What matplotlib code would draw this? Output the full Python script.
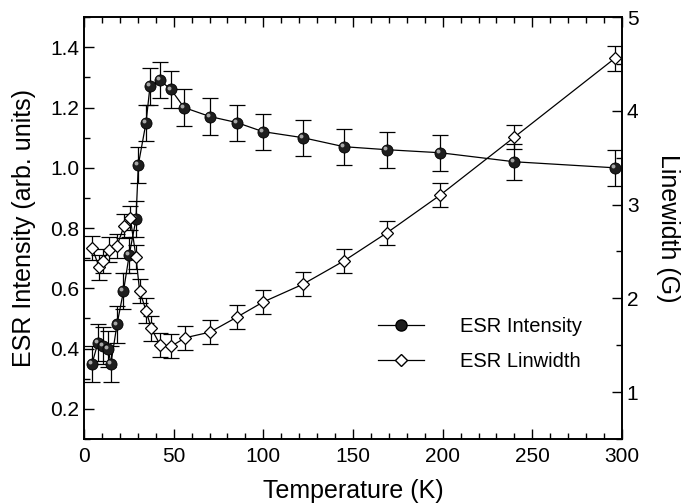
import matplotlib
matplotlib.use("Agg")

import matplotlib.pyplot as plt
import matplotlib.transforms as mtransforms
from matplotlib.lines import Line2D
from matplotlib.ticker import MultipleLocator

plt.rcParams["font.family"] = ["Liberation Sans", "DejaVu Sans"]

# ESR intensity (left axis)
T_int = [4.5, 7.8, 10.6, 13.4, 15, 18.4, 22, 25.2, 29, 30.3, 34.6, 36.8, 42.4,
         48.5, 55.8, 70.3, 85.3, 99.8, 122, 145, 169, 198.5, 240, 296]
intensity = [0.35, 0.42, 0.41, 0.40, 0.35, 0.48, 0.59, 0.71, 0.83, 1.01, 1.15,
             1.27, 1.29, 1.26, 1.20, 1.17, 1.15, 1.12, 1.10, 1.07, 1.06, 1.05,
             1.02, 1.00]
intensity_err = [0.06] * len(T_int)

# ESR linewidth (right axis)
T_lw = [4.5, 8.5, 10.6, 14, 18.4, 22.3, 25.8, 29, 31, 34.6, 37.5, 42.6, 48.7,
        56.5, 70.3, 85.3, 99.8, 122, 145, 169, 198.5, 240, 296]
linewidth = [2.54, 2.33, 2.40, 2.52, 2.56, 2.77, 2.86, 2.44, 2.08, 1.87, 1.68,
             1.50, 1.49, 1.58, 1.64, 1.80, 1.96, 2.15, 2.40, 2.70, 3.10, 3.72,
             4.56]
linewidth_err = [0.13] * len(T_lw)

fig = plt.figure(figsize=(6.93, 5.04), dpi=100)
ax = fig.add_axes([0.1212, 0.129, 0.7763, 0.837])
ax2 = ax.twinx()

ax.errorbar(T_int, intensity, yerr=intensity_err, fmt="-", color="black",
            lw=0.9, elinewidth=0.9, capsize=5.8, capthick=0.9, zorder=2)
ax.plot(T_int, intensity, "o", ms=8, mfc="#1e1e1e", mec="black", mew=0.6,
        zorder=3)
# little highlight to mimic the shaded spheres
shift = mtransforms.offset_copy(ax.transData, fig=fig, x=-1.4, y=1.4,
                                units="points")
ax.plot(T_int, intensity, "o", ms=2.8, mfc="#a8a8a8", mec="none",
        transform=shift, zorder=4)

ax2.errorbar(T_lw, linewidth, yerr=linewidth_err, fmt="-", color="black",
             lw=0.9, elinewidth=0.9, capsize=5.8, capthick=0.9, zorder=2)
ax2.plot(T_lw, linewidth, "D", ms=6.6, mfc="white", mec="black", mew=0.9,
         zorder=3)

ax.set_xlim(0, 300)
ax.set_ylim(0.1, 1.5)
ax2.set_ylim(0.5, 5)

ax.xaxis.set_major_locator(MultipleLocator(50))
ax.xaxis.set_minor_locator(MultipleLocator(10))
ax.yaxis.set_major_locator(MultipleLocator(0.2))
ax.yaxis.set_minor_locator(MultipleLocator(0.1))
ax2.yaxis.set_major_locator(MultipleLocator(1))
ax2.yaxis.set_minor_locator(MultipleLocator(0.5))
ax.yaxis.set_major_formatter(matplotlib.ticker.FormatStrFormatter("%.1f"))

ax.tick_params(which="both", direction="in", top=True, right=False,
               labelsize=15, width=1)
ax.tick_params(which="major", length=7)
ax.tick_params(which="minor", length=4)
ax.tick_params(axis="x", pad=6)
ax2.tick_params(which="both", direction="in", labelsize=15, width=1)
ax2.tick_params(which="major", length=7)
ax2.tick_params(which="minor", length=4)

for a in (ax, ax2):
    for s in a.spines.values():
        s.set_linewidth(1.2)

ax.set_xlabel("Temperature (K)", fontsize=18, labelpad=9)
ax.set_ylabel("ESR Intensity (arb. units)", fontsize=18, labelpad=10)
ax2.set_ylabel("Linewidth (G)", fontsize=18, rotation=270, labelpad=30)

handles = [
    Line2D([], [], color="black", lw=0.9, marker="o", ms=8, mfc="#1e1e1e",
           mec="black"),
    Line2D([], [], color="black", lw=0.9, marker="D", ms=6.6, mfc="white",
           mec="black"),
]
ax2.legend(handles, ["ESR Intensity", "ESR Linwidth"], loc="upper left",
           bbox_to_anchor=(0.546, 0.29), frameon=False, fontsize=14.5,
           numpoints=1, handlelength=2.3, handletextpad=1.8,
           labelspacing=0.8, borderpad=0, borderaxespad=0)

fig.savefig("out.png", dpi=100)
